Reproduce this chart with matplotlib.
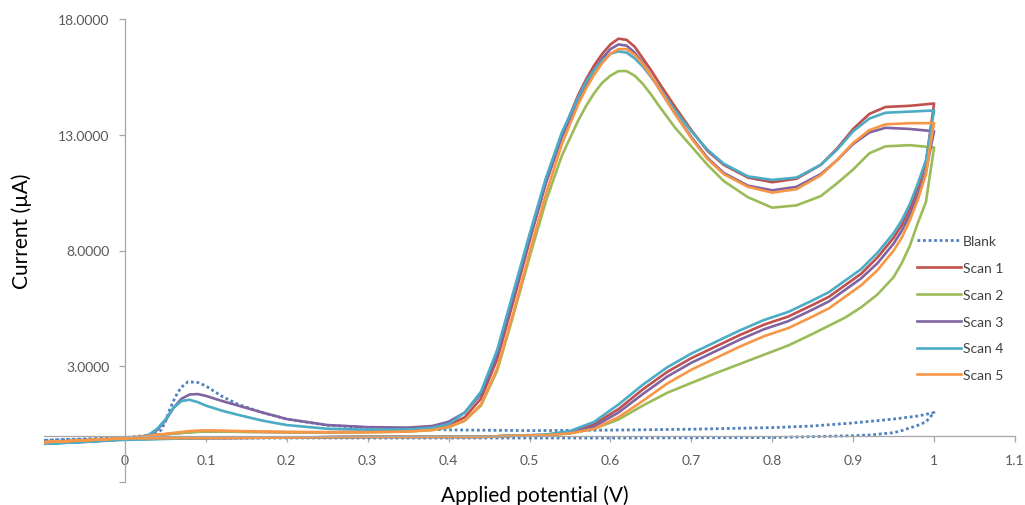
#!/usr/bin/env python
# coding: utf-8

import matplotlib
matplotlib.use("Agg")
import matplotlib.pyplot

# potentials (V) of the forward sweep and of the return sweep
fwd_v = [-0.1, -0.05, 0.0, 0.02, 0.03, 0.04, 0.05, 0.06, 0.07, 0.08, 0.09, 0.10,
         0.12, 0.14, 0.17, 0.2, 0.25, 0.3, 0.35, 0.38, 0.4, 0.42, 0.44, 0.46,
         0.48, 0.5, 0.52, 0.54, 0.56, 0.57, 0.58, 0.59, 0.6, 0.61, 0.62, 0.63,
         0.64, 0.65, 0.66, 0.68, 0.7, 0.72, 0.74, 0.77, 0.8, 0.83, 0.86, 0.88,
         0.9, 0.92, 0.94, 0.97, 1.0]
rev_v = [1.0, 0.995, 0.99, 0.98, 0.97, 0.96, 0.95, 0.93, 0.91, 0.89, 0.87, 0.85,
         0.82, 0.79, 0.76, 0.73, 0.70, 0.67, 0.64, 0.61, 0.58, 0.55, 0.52, 0.48,
         0.44, 0.4, 0.3, 0.2, 0.1, 0.0, -0.1]

# currents (uA)
scan1_fwd = [-0.3, -0.22, -0.12, -0.05, 0.0, 0.03, 0.06, 0.09, 0.12, 0.15, 0.17, 0.18,
             0.18, 0.17, 0.16, 0.15, 0.15, 0.17, 0.22, 0.3, 0.45, 0.8, 1.6, 3.3,
             5.8, 8.4, 10.9, 13.0, 14.7, 15.4, 16.0, 16.5, 16.9, 17.15, 17.1, 16.8,
             16.3, 15.8, 15.25, 14.2, 13.2, 12.3, 11.7, 11.15, 10.95, 11.1, 11.7, 12.4,
             13.25, 13.9, 14.2, 14.25, 14.35]
scan1_rev = [14.35, 13.1, 11.8, 10.7, 9.8, 9.1, 8.55, 7.7, 7.0, 6.5, 6.0, 5.65,
             5.15, 4.8, 4.35, 3.85, 3.35, 2.75, 2.0, 1.15, 0.5, 0.15, 0.03, 0.0,
             -0.05, -0.05, -0.05, -0.08, -0.1, -0.15, -0.3]

scan2_fwd = [-0.3, -0.22, -0.12, -0.05, 0.0, 0.03, 0.06, 0.09, 0.12, 0.15, 0.17, 0.18,
             0.18, 0.17, 0.16, 0.15, 0.14, 0.15, 0.18, 0.24, 0.36, 0.65, 1.3, 2.8,
             5.2, 7.7, 10.1, 12.1, 13.6, 14.25, 14.8, 15.25, 15.55, 15.75, 15.75, 15.55,
             15.2, 14.75, 14.25, 13.3, 12.5, 11.7, 11.0, 10.3, 9.85, 9.95, 10.35, 10.9,
             11.5, 12.2, 12.5, 12.55, 12.45]
scan2_rev = [12.45, 11.3, 10.1, 9.2, 8.2, 7.45, 6.85, 6.1, 5.55, 5.1, 4.75, 4.4,
             3.9, 3.5, 3.1, 2.7, 2.28, 1.85, 1.3, 0.7, 0.3, 0.1, 0.02, 0.0,
             -0.05, -0.05, -0.05, -0.08, -0.1, -0.15, -0.3]

scan3_fwd = [-0.3, -0.22, -0.12, -0.05, 0.02, 0.25, 0.65, 1.2, 1.6, 1.78, 1.8, 1.72,
             1.5, 1.3, 1.0, 0.72, 0.46, 0.37, 0.35, 0.42, 0.6, 1.0, 1.8, 3.5,
             6.0, 8.5, 10.9, 12.9, 14.5, 15.2, 15.8, 16.3, 16.7, 16.9, 16.85, 16.55,
             16.1, 15.55, 15.0, 13.9, 12.9, 12.0, 11.35, 10.8, 10.6, 10.75, 11.3, 11.9,
             12.6, 13.1, 13.3, 13.25, 13.15]
scan3_rev = [13.15, 12.3, 11.4, 10.4, 9.55, 8.85, 8.3, 7.45, 6.8, 6.3, 5.8, 5.45,
             4.95, 4.6, 4.15, 3.65, 3.15, 2.55, 1.8, 1.0, 0.4, 0.12, 0.02, 0.0,
             -0.05, -0.05, -0.05, -0.08, -0.1, -0.15, -0.3]

scan4_fwd = [-0.35, -0.27, -0.15, -0.05, 0.05, 0.3, 0.7, 1.2, 1.5, 1.55, 1.45, 1.3,
             1.08, 0.9, 0.65, 0.46, 0.3, 0.26, 0.27, 0.34, 0.5, 1.0, 1.9, 3.7,
             6.2, 8.7, 11.1, 13.1, 14.6, 15.3, 15.8, 16.2, 16.5, 16.6, 16.55, 16.3,
             15.95, 15.5, 15.05, 14.05, 13.15, 12.35, 11.75, 11.2, 11.05, 11.15, 11.7, 12.35,
             13.15, 13.7, 13.95, 14.0, 14.05]
scan4_rev = [14.05, 13.0, 11.9, 10.9, 10.0, 9.3, 8.75, 7.9, 7.2, 6.7, 6.2, 5.85,
             5.35, 5.0, 4.55, 4.05, 3.55, 2.95, 2.2, 1.35, 0.6, 0.2, 0.05, 0.0,
             -0.05, -0.05, -0.05, -0.08, -0.1, -0.18, -0.35]

scan5_fwd = [-0.28, -0.2, -0.1, -0.04, 0.0, 0.04, 0.08, 0.12, 0.16, 0.2, 0.22, 0.23,
             0.22, 0.2, 0.18, 0.16, 0.15, 0.15, 0.18, 0.25, 0.38, 0.65, 1.35, 2.9,
             5.3, 7.9, 10.4, 12.6, 14.3, 15.0, 15.6, 16.1, 16.5, 16.7, 16.7, 16.45,
             16.05, 15.55, 15.0, 13.9, 12.85, 11.95, 11.3, 10.75, 10.5, 10.65, 11.25, 11.9,
             12.65, 13.2, 13.45, 13.5, 13.5]
scan5_rev = [13.5, 12.5, 11.3, 10.2, 9.3, 8.55, 8.0, 7.15, 6.5, 6.0, 5.5, 5.15,
             4.65, 4.3, 3.85, 3.35, 2.85, 2.25, 1.5, 0.8, 0.3, 0.1, 0.02, 0.0,
             -0.05, -0.05, -0.05, -0.08, -0.1, -0.12, -0.28]

blank_fwd_v = [-0.1, 0.0, 0.03, 0.04, 0.045, 0.05, 0.055, 0.06, 0.065, 0.07, 0.078,
               0.09, 0.10, 0.12, 0.14, 0.17, 0.2, 0.25, 0.3, 0.35, 0.4, 0.5, 0.6,
               0.7, 0.8, 0.85, 0.9, 0.95, 0.98, 1.0]
blank_fwd = [-0.2, -0.08, 0.02, 0.1, 0.26, 0.6, 1.1, 1.5, 1.85, 2.1, 2.33,
             2.3, 2.15, 1.7, 1.35, 1.0, 0.72, 0.45, 0.35, 0.3, 0.25, 0.22, 0.24,
             0.28, 0.35, 0.42, 0.55, 0.72, 0.85, 1.0]
blank_rev_v = [1.0, 0.99, 0.98, 0.96, 0.95, 0.92, 0.9, 0.8, 0.6, 0.4, 0.2, 0.0, -0.1]
blank_rev = [1.0, 0.6, 0.45, 0.22, 0.13, 0.03, 0.0, -0.08, -0.1, -0.1, -0.1, -0.12, -0.2]

labels = ["Blank", "Scan 1", "Scan 2", "Scan 3", "Scan 4", "Scan 5"]
colors = ["#4F81BD", "#C0504D", "#9BBB59", "#8064A2", "#4BACC6", "#F79646"]
x_ticks = [0, 0.1, 0.2, 0.3, 0.4, 0.5, 0.6, 0.7, 0.8, 0.9, 1, 1.1]
x_tick_labels = ["0", "0.1", "0.2", "0.3", "0.4", "0.5", "0.6", "0.7", "0.8", "0.9", "1", "1.1"]
y_ticks = [-2, 3, 8, 13, 18]

matplotlib.pyplot.rcParams['font.family'] = ['Lato', 'DejaVu Sans']

fig = matplotlib.pyplot.figure(figsize=(10.25, 5.06), dpi=100)
ax = fig.add_axes([44 / 1025, 23 / 506, 971 / 1025, 463 / 506])

ax.plot(blank_fwd_v + blank_rev_v, blank_fwd + blank_rev, color=colors[0],
        lw=2.0, linestyle=(0, (1, 1)), label=labels[0])
scans = [(scan1_fwd, scan1_rev), (scan2_fwd, scan2_rev), (scan3_fwd, scan3_rev),
         (scan4_fwd, scan4_rev), (scan5_fwd, scan5_rev)]
for k in range(len(scans)):
    f, r = scans[k]
    ax.plot(fwd_v + rev_v, f + r, color=colors[k + 1], lw=1.9,
            solid_joinstyle='round', label=labels[k + 1])

ax.set_xlim(-0.1, 1.1)
ax.set_ylim(-2, 18)
ax.spines['left'].set_position(('data', 0))
ax.spines['bottom'].set_position(('data', 0))
ax.spines['top'].set_visible(False)
ax.spines['right'].set_visible(False)
for s in ['left', 'bottom']:
    ax.spines[s].set_color('#A6A6A6')
    ax.spines[s].set_linewidth(0.9)

ax.set_xticks(x_ticks)
ax.set_xticklabels(x_tick_labels)
ax.set_yticks(y_ticks)
ax.set_yticklabels([''] + ['%.4f' % t for t in y_ticks[1:]])
ax.tick_params(axis='both', colors='#A6A6A6', labelcolor='#595959',
               labelsize=10, length=4, width=0.9)
ax.tick_params(axis='x', pad=9)
ax.tick_params(axis='y', pad=7)

fig.text(22 / 1025, 1 - 231 / 506, "Current (µA)", rotation=90,
         ha='center', va='center', fontsize=15, color='black')
fig.text(535 / 1025, 1 - 496 / 506, "Applied potential (V)",
         ha='center', va='center', fontsize=15, color='black')

leg = ax.legend(loc='upper left', bbox_to_anchor=(917 / 1025, 1 - 236 / 506),
                bbox_transform=fig.transFigure, frameon=False, fontsize=10,
                handlelength=3.2, handletextpad=0.1, labelspacing=1.07,
                borderpad=0, borderaxespad=0)
for t in leg.get_texts():
    t.set_color('#404040')

fig.savefig("out.png", dpi=100)
